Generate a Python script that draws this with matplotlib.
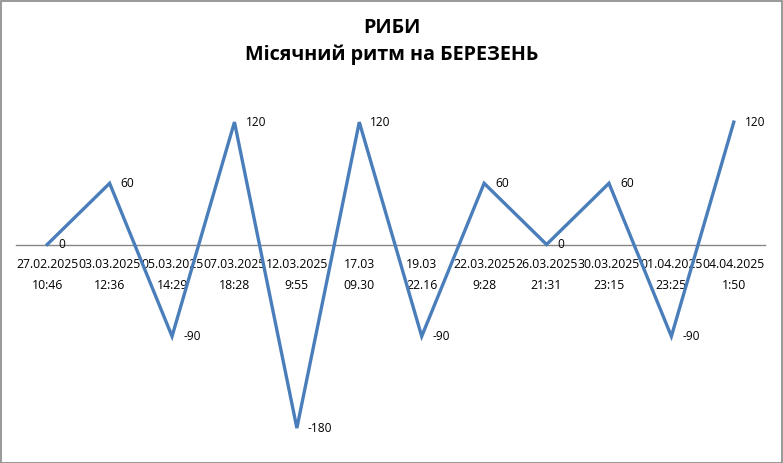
import numpy as np
import matplotlib.pyplot as plt
from matplotlib.patches import Rectangle

plt.rcParams['font.family'] = ['Open Sans', 'DejaVu Sans']

# %%
dates = ['27.02.2025', '03.03.2025', '05.03.2025', '07.03.2025', '12.03.2025', '17.03',
	'19.03', '22.03.2025', '26.03.2025', '30.03.2025', '01.04.2025', '04.04.2025']
times = ['10:46', '12:36', '14:29', '18:28', '9:55', '09.30',
	'22.16', '9:28', '21:31', '23:15', '23:25', '1:50']
values = [0, 60, -90, 120, -180, 120, -90, 60, 0, 60, -90, 120]

title = 'РИБИ\nМісячний ритм на БЕРЕЗЕНЬ'
line_color = '#4A7EBB'

# %%
W, H = 783, 463
fig = plt.figure(figsize=(W/100, H/100), dpi=100)
ax = fig.add_axes([16/W, (H-448.5)/H, (765-16)/W, (448.5-91.5)/H])

x = np.arange(len(values))
ax.plot(x, values, color=line_color, lw=2.4, solid_joinstyle='miter')

for xi, v in zip(x, values):
	ax.annotate(str(v), (xi, v), xytext=(8, 0), textcoords='offset points',
		ha='left', va='center', fontsize=8.6)

ax.set_xlim(-0.5, len(values)-0.5)
ax.set_ylim(-200, 150)

for s in ['top', 'right', 'left']:
	ax.spines[s].set_visible(False)
ax.spines['bottom'].set_position(('data', 0))
ax.spines['bottom'].set_color('#868686')
ax.spines['bottom'].set_linewidth(1.0)
ax.spines['bottom'].set_zorder(0)
ax.set_yticks([])
ax.set_xticks(x)
ax.set_xticklabels([d + '\n' + t for d, t in zip(dates, times)], fontsize=8.8, linespacing=1.75)
ax.tick_params(axis='x', length=0, pad=10)

fig.text(0.5, 1 - 41.5/H, title, ha='center', va='center', fontsize=14.2,
	fontweight='bold', linespacing=1.4)

fig.patches.append(Rectangle((0.5/W, 0.5/H), 1 - 1.5/W, 1 - 1.5/H, transform=fig.transFigure,
	fill=False, edgecolor='#888888', lw=1.2))

fig.savefig('out.png', dpi=100)
